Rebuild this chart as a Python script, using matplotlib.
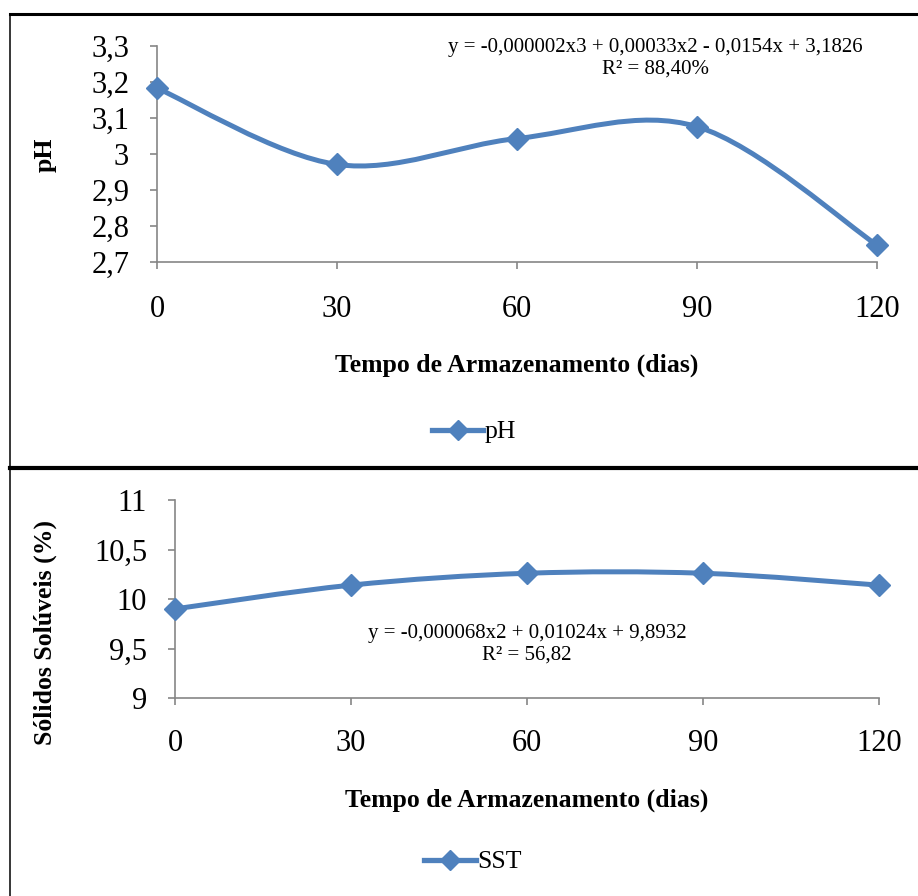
import matplotlib
matplotlib.use("Agg")
import matplotlib.pyplot as plt
from matplotlib.path import Path
from matplotlib.patches import PathPatch
from matplotlib.lines import Line2D

plt.rcParams['font.family'] = ['Liberation Serif', 'DejaVu Serif']

# Storage time (days)
dias = [0, 30, 60, 90, 120]
x_ticklabels = ['0', '30', '60', '90', '120']

# pH over storage
ph = [3.183, 2.971, 3.043, 3.076, 2.747]
ph_ticks = [2.7, 2.8, 2.9, 3.0, 3.1, 3.2, 3.3]
ph_ticklabels = ['2,7', '2,8', '2,9', '3', '3,1', '3,2', '3,3']
ph_eq = 'y = -0,000002x3 + 0,00033x2 - 0,0154x + 3,1826\nR² = 88,40%'

# Soluble solids (SST) over storage
sst = [9.90, 10.14, 10.26, 10.26, 10.14]
sst_ticks = [9, 9.5, 10, 10.5, 11]
sst_ticklabels = ['9', '9,5', '10', '10,5', '11']
sst_eq = 'y = -0,000068x2 + 0,01024x + 9,8932\nR² = 56,82'

BLUE = '#4F81BD'
GRAY = '#868686'
W, H = 918, 896
TICK_FS = 22
LABEL_FS = 18.5
EQ_FS = 15


def smooth_path(xs, ys):
    """Cubic Bezier path through the points (spreadsheet-style smoothing)."""
    pts = list(zip(xs, ys))
    n = len(pts)
    verts = [pts[0]]
    codes = [Path.MOVETO]
    for i in range(n - 1):
        p0 = pts[max(i - 1, 0)]
        p1 = pts[i]
        p2 = pts[i + 1]
        p3 = pts[min(i + 2, n - 1)]
        c1 = (p1[0] + (p2[0] - p0[0]) / 6, p1[1] + (p2[1] - p0[1]) / 6)
        c2 = (p2[0] - (p3[0] - p1[0]) / 6, p2[1] - (p3[1] - p1[1]) / 6)
        verts += [c1, c2, p2]
        codes += [Path.CURVE4] * 3
    return Path(verts, codes)


def px_axes(fig, left, top, right, bottom):
    return fig.add_axes([left / W, 1 - bottom / H, (right - left) / W, (bottom - top) / H])


def style(ax, yticks, yticklabels, ylim, xpad):
    ax.set_xlim(0, 120)
    ax.set_ylim(*ylim)
    ax.set_xticks(dias)
    ax.set_xticklabels(x_ticklabels)
    ax.set_yticks(yticks)
    ax.set_yticklabels(yticklabels)
    for s in ['top', 'right']:
        ax.spines[s].set_visible(False)
    for s in ['left', 'bottom']:
        ax.spines[s].set_color(GRAY)
        ax.spines[s].set_linewidth(1.2)
    ax.tick_params(axis='x', direction='out', length=5, width=1.2, color=GRAY,
                   labelsize=TICK_FS, pad=xpad)
    ax.tick_params(axis='y', direction='out', length=5, width=1.2, color=GRAY,
                   labelsize=TICK_FS, pad=15)
    ax.patch.set_alpha(0)


def draw_series(ax, xs, ys):
    ax.add_patch(PathPatch(smooth_path(xs, ys), facecolor='none', edgecolor=BLUE,
                           lw=3.6, capstyle='round', joinstyle='round', zorder=3))
    ax.plot(xs, ys, linestyle='none', marker='D', markersize=11,
            color=BLUE, zorder=4, clip_on=False)


fig = plt.figure(figsize=(W / 100, H / 100), dpi=100)

# Panel frames
fig.add_artist(Line2D([10 / W, 1], [1 - 14 / H, 1 - 14 / H], color='black', lw=2.2))
fig.add_artist(Line2D([10 / W, 10 / W], [1 - 14 / H, 0], color='black', lw=1.1))
fig.add_artist(Line2D([10 / W, 1], [1 - 468 / H, 1 - 468 / H], color='black', lw=3))

# pH panel
ax1 = px_axes(fig, 157, 46, 877, 262)
style(ax1, ph_ticks, ph_ticklabels, (2.7, 3.3), xpad=19)
draw_series(ax1, dias, ph)
ax1.set_xlabel('Tempo de Armazenamento (dias)', fontsize=LABEL_FS, fontweight='bold',
               labelpad=21)
fig.text(45 / W, 1 - 155 / H, 'pH', rotation=90, ha='center', va='center',
         fontsize=LABEL_FS, fontweight='bold')
fig.text(655 / W, 1 - 58 / H, ph_eq, ha='center', va='center', fontsize=EQ_FS,
         linespacing=1.15)
leg1 = [Line2D([], [], color=BLUE, lw=3.8, marker='D', markersize=10)]
fig.legend(leg1, ['pH'], loc='center', bbox_to_anchor=(474 / W, 1 - 432 / H),
           frameon=False, fontsize=LABEL_FS, handlelength=2.0, handletextpad=0.05)

# SST panel
ax2 = px_axes(fig, 175, 500, 879, 698)
style(ax2, sst_ticks, sst_ticklabels, (9, 11), xpad=17)
draw_series(ax2, dias, sst)
ax2.set_xlabel('Tempo de Armazenamento (dias)', fontsize=LABEL_FS, fontweight='bold',
               labelpad=22)
fig.text(45 / W, 1 - 632 / H, 'Sólidos Solúveis (%)', rotation=90, ha='center',
         va='center', fontsize=LABEL_FS, fontweight='bold')
fig.text(527 / W, 1 - 644 / H, sst_eq, ha='center', va='center', fontsize=EQ_FS,
         linespacing=1.15)
leg2 = [Line2D([], [], color=BLUE, lw=3.8, marker='D', markersize=10)]
fig.legend(leg2, ['SST'], loc='center', bbox_to_anchor=(473 / W, 1 - 862 / H),
           frameon=False, fontsize=LABEL_FS, handlelength=2.0, handletextpad=0.05)

fig.savefig('out.png', dpi=100)
